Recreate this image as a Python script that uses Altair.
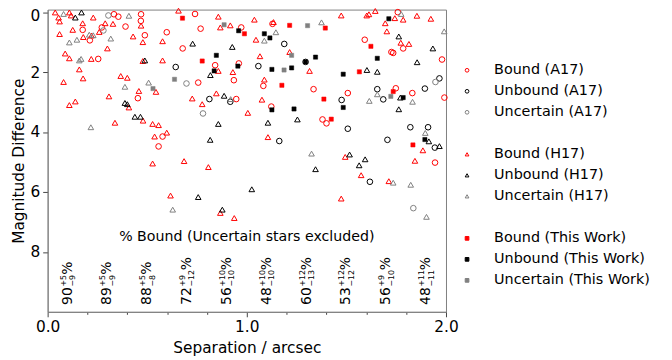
import altair as alt
import pandas as pd

# ---------------- data ----------------
a17_bound_x = [0.333, 0.355, 0.469, 0.740, 0.468, 0.391, 0.768, 0.272, 0.176, 0.598, 0.488, 0.212, 0.678, 0.254,
               0.841, 0.756, 0.935, 0.453, 0.947, 0.577, 0.557, 0.972, 1.129, 1.758, 1.592, 1.785, 1.726, 1.735,
               1.980, 0.960, 1.083, 1.335, 1.507, 1.748, 1.831, 1.992, 1.123, 1.380, 1.400, 1.945]
a17_bound_y = [0.07, 0.15, 0.07, 0.06, 0.29, 0.48, 0.55, 0.51, 0.59, 0.67, 0.77, 0.94, 1.21, 1.56,
               1.77, 2.35, 2.27, 2.87, 2.90, 4.15, 4.48, 0.51, 0.39, 0.00, 0.92, 1.21, 1.33, 1.36,
               1.58, 1.71, 2.46, 2.57, 2.70, 2.54, 2.70, 2.85, 3.15, 3.58, 3.71, 5.02]

a17_unbound_x = [0.643, 0.812, 0.917, 1.188, 1.295, 1.058, 1.655, 1.894, 1.967, 1.476, 1.685, 1.507,
                 1.163, 1.706, 1.821, 1.910, 1.944, 1.618]
a17_unbound_y = [1.83, 2.90, 2.99, 1.06, 1.66, 1.80, 2.57, 2.55, 2.21, 2.93, 2.91, 3.89,
                 4.30, 4.26, 3.84, 3.84, 4.52, 5.66]

a17_unc_x = [0.305, 0.280, 0.697, 0.780, 1.947, 1.836]
a17_unc_y = [0.11, 0.61, 2.38, 3.38, 2.33, 6.54]

h17_bound_x = [0.038, 0.109, 0.118, 0.055, 0.060, 0.229, 0.657, 0.857, 0.176, 0.289, 0.328, 0.469, 0.867, 0.917,
               0.259, 0.126, 0.060, 0.220, 0.179, 0.429, 0.478, 0.577, 0.300, 0.088, 0.109, 0.219, 0.478, 0.577,
               0.857, 0.930, 0.159, 0.367, 0.400, 0.178, 0.080, 0.458, 0.544, 0.847, 0.308, 0.726, 0.139, 0.109,
               0.408, 0.776, 0.479, 0.338, 0.527, 0.557, 0.598, 0.537, 0.527, 0.685, 0.807, 0.617, 0.867, 0.937,
               1.038, 1.134, 1.474, 1.602, 1.613, 1.645, 1.695, 1.743, 1.785, 1.854, 1.924, 1.046, 1.703, 1.773,
               1.814, 1.066, 1.215, 1.315, 1.088, 1.076, 1.005, 1.106, 1.884, 1.844, 1.494, 1.574, 1.713, 1.474]
h17_bound_y = [0.01, 0.01, 0.11, 0.18, 0.31, 0.18, -0.05, 0.15, 0.37, 0.37, 0.39, 0.45, 0.51, 0.44,
               0.66, 0.59, 0.73, 0.78, 0.83, 0.81, 1.00, 0.97, 1.21, 1.38, 1.54, 1.56, 1.63, 1.61,
               1.96, 2.00, 1.91, 2.13, 2.19, 2.21, 2.33, 2.63, 2.66, 2.71, 2.81, 2.88, 2.98, 3.10,
               3.18, 3.07, 3.62, 3.69, 3.73, 3.77, 4.02, 4.15, 5.05, 4.97, 5.17, 6.12, 6.70, 6.87,
               0.25, 0.33, 0.11, 0.11, 0.07, -0.04, 0.37, 0.20, 0.25, 0.12, 0.22, 0.92, 0.64, 1.02,
               1.06, 1.47, 1.33, 1.96, 2.25, 2.92, 3.36, 4.17, 4.61, 4.96, 4.83, 5.44, 5.64, 6.22]

h17_unbound_x = [0.170, 0.139, 0.728, 0.927, 0.488, 0.817, 0.886, 0.388, 0.400, 0.438, 0.466, 0.857, 0.816,
                 0.756, 0.877, 1.763, 1.934, 1.855, 1.603, 1.655, 1.771, 1.763, 1.254, 1.106, 1.914, 1.967,
                 1.516, 1.594, 1.564, 1.345, 1.025]
h17_unbound_y = [0.01, 0.18, 1.05, 1.16, 1.61, 2.10, 2.79, 3.03, 3.07, 3.49, 3.49, 3.73, 4.26,
                 6.17, 6.59, 0.81, 1.21, 1.67, 1.93, 1.99, 2.85, 3.24, 3.58, 3.69, 4.31, 4.47,
                 4.75, 4.91, 5.11, 5.24, 5.91]

h17_unc_x = [0.080, 0.408, 0.209, 0.229, 0.317, 0.147, 0.109, 0.159, 0.168, 0.507, 0.388, 0.919, 0.217, 0.628,
             1.375, 1.775, 1.146, 1.088, 1.991, 1.655, 1.615, 1.832, 1.896, 1.325, 1.735, 1.823, 1.902]
h17_unc_y = [0.06, 0.12, 0.75, 0.77, 0.88, 0.92, 1.01, 1.61, 1.56, 2.35, 2.49, 2.90, 3.84, 6.59,
             0.34, 0.06, 0.67, 0.95, 0.64, 2.74, 2.96, 2.99, 4.03, 4.72, 5.69, 5.76, 6.83]

tw_bound_x = [0.677, 0.988, 1.215, 1.394, 1.623, 0.776, 1.565, 1.176, 1.735, 1.387, 1.424, 1.834]
tw_bound_y = [0.20, 0.72, 0.44, 0.53, 1.14, 1.63, 1.99, 2.44, 2.65, 2.90, 3.57, 4.43]

tw_unbound_x = [0.847, 0.836, 0.959, 1.088, 1.116, 1.713, 1.345, 1.295, 1.655, 0.955, 1.126, 1.225,
                1.484, 1.785, 1.126, 1.237, 1.484, 1.894]
tw_unbound_y = [1.44, 1.96, 0.62, 0.72, 0.86, 0.22, 1.50, 1.66, 1.54, 1.80, 1.91, 1.86,
                2.07, 2.85, 3.26, 3.23, 3.18, 4.25]

tw_unc_x = [0.886, 0.637, 0.529, 1.305, 1.225, 1.187, 1.723]
tw_unc_y = [0.42, 2.24, 2.55, 0.45, 1.44, 1.93, 2.81]

# bound-fraction annotations per separation bin
bin_centres = [0.1, 0.3, 0.5, 0.7, 0.9, 1.1, 1.3, 1.5, 1.7, 1.9]
pct_bound = ["90", "89", "88", "72", "56", "48", "60", "53", "56", "48"]
err_up = ["+5", "+5", "+5", "+9", "+10", "+10", "+12", "+12", "+9", "+11"]
err_lo = ["\u22129", "\u22129", "\u22128", "\u221212", "\u221210", "\u221210", "\u221213", "\u221212", "\u221210", "\u221211"]

cats = ["Bound (A17)", "Unbound (A17)", "Uncertain (A17)", "gap1",
        "Bound (H17)", "Unbound (H17)", "Uncertain (H17)", "gap2",
        "Bound (This Work)", "Unbound (This Work)", "Uncertain (This Work)"]
shapes = ["circle", "circle", "circle", "circle",
          "triangle-up", "triangle-up", "triangle-up", "circle",
          "square", "square", "square"]
strokes = ["#ff0000", "#000000", "#808080", "transparent",
           "#ff0000", "#000000", "#808080", "transparent",
           "#ff0000", "#000000", "#808080"]
fills = ["transparent"] * 8 + ["#ff0000", "#000000", "#808080"]

x_ticks = [round(i * 0.1, 1) for i in range(0, 21)]
y_ticks = [round(i * 0.5, 1) for i in range(0, 20)]


def frame(xs, ys, cat):
    return pd.DataFrame({"x": xs, "y": ys, "cat": cat})


open_df = pd.concat([
    frame(a17_bound_x, a17_bound_y, cats[0]),
    frame(a17_unbound_x, a17_unbound_y, cats[1]),
    frame(a17_unc_x, a17_unc_y, cats[2]),
    frame(h17_bound_x, h17_bound_y, cats[4]),
    frame(h17_unbound_x, h17_unbound_y, cats[5]),
    frame(h17_unc_x, h17_unc_y, cats[6]),
], ignore_index=True)
sq_df = pd.concat([
    frame(tw_bound_x, tw_bound_y, cats[8]),
    frame(tw_unbound_x, tw_unbound_y, cats[9]),
    frame(tw_unc_x, tw_unc_y, cats[10]),
], ignore_index=True)
bins_df = pd.DataFrame({"x": bin_centres, "main": pct_bound, "up": err_up, "lo": err_lo})

FONT = "DejaVu Sans"
xscale = alt.Scale(domain=[0, 2], nice=False, zero=False)
yscale = alt.Scale(domain=[-0.086, 10], reverse=True, nice=False, zero=False)

x_axis = alt.Axis(
    values=x_ticks, title="Separation / arcsec",
    labelExpr="abs(datum.value*2 - round(datum.value*2)) < 1e-6 ? format(datum.value, '.1f') : ''",
    tickSize={"condition": {"test": "abs(datum.value*2 - round(datum.value*2)) < 1e-6", "value": 5}, "value": 2.5},
    grid=False, labelFlush=False, labelOverlap=False, labelFont=FONT, titleFont=FONT,
    labelFontSize=15.5, titleFontSize=15.5, titleFontWeight="normal", labelColor="black", titleColor="black",
    domainColor="#808080", tickColor="#444444", labelPadding=3, titlePadding=6,
)
y_axis = alt.Axis(
    values=y_ticks, title="Magnitude Difference",
    labelExpr="abs(datum.value/2 - round(datum.value/2)) < 1e-6 ? format(datum.value, 'd') : ''",
    tickSize={"condition": {"test": "abs(datum.value/2 - round(datum.value/2)) < 1e-6", "value": 5}, "value": 2.5},
    labelOffset={"condition": {"test": "datum.value === 0", "value": 3.5}, "value": 0},
    grid=False, labelFlush=False, labelOverlap=False, labelFont=FONT, titleFont=FONT,
    labelFontSize=15.5, titleFontSize=15.5, titleFontWeight="normal", labelColor="black", titleColor="black",
    domainColor="#808080", tickColor="#444444", labelPadding=3, titlePadding=3,
)

legend = alt.Legend(
    title=None, orient="none", legendX=416, legendY=54, padding=0,
    labelExpr="indexof(datum.label, 'gap') >= 0 ? '' : datum.label",
    labelFont=FONT, labelFontSize=14.5, labelColor="black", labelOffset=20,
    symbolSize=14, symbolStrokeWidth=1, symbolOpacity=1, rowPadding=6.2,
)
shape_enc = alt.Shape("cat:N", scale=alt.Scale(domain=cats, range=shapes), legend=legend)
stroke_enc = alt.Stroke("cat:N", scale=alt.Scale(domain=cats, range=strokes), legend=legend)
fill_enc = alt.Fill("cat:N", scale=alt.Scale(domain=cats, range=fills), legend=legend)

X = alt.X("x:Q", scale=xscale, axis=x_axis)
Y = alt.Y("y:Q", scale=yscale, axis=y_axis)

pts_open = alt.Chart(open_df).mark_point(size=32, strokeWidth=1, opacity=1).encode(
    x=X, y=Y, shape=shape_enc, stroke=stroke_enc, fill=fill_enc,
)
pts_sq = alt.Chart(sq_df).mark_point(size=18, strokeWidth=0.5, opacity=1).encode(
    x=X, y=Y, shape=shape_enc, stroke=stroke_enc, fill=fill_enc,
)

header = alt.Chart(pd.DataFrame({"t": ["% Bound (Uncertain stars excluded)"]})).mark_text(
    font=FONT, fontSize=14.3, color="black", align="center", baseline="middle"
).encode(x=alt.datum(1.0), y=alt.datum(7.52), text="t:N")

LABEL_Y = 9.77
rot = dict(font=FONT, color="black", angle=270, align="left", baseline="middle")
main_t = alt.Chart(bins_df).mark_text(fontSize=14, **rot).encode(
    x=X, y=alt.datum(LABEL_Y), text="main:N")
up_t = alt.Chart(bins_df).mark_text(fontSize=8, dx=18.5, dy=-4, **rot).encode(
    x=X, y=alt.datum(LABEL_Y), text="up:N")
lo_t = alt.Chart(bins_df).mark_text(fontSize=8, dx=18.5, dy=5.5, **rot).encode(
    x=X, y=alt.datum(LABEL_Y), text="lo:N")
pct_short = alt.Chart(bins_df).transform_filter("length(datum.lo) <= 2").mark_text(
    fontSize=14, dx=30.5, **rot).encode(
    x=X, y=alt.datum(LABEL_Y), text=alt.value("%"))
pct_long = alt.Chart(bins_df).transform_filter("length(datum.lo) > 2").mark_text(
    fontSize=14, dx=35, **rot).encode(
    x=X, y=alt.datum(LABEL_Y), text=alt.value("%"))

chart = alt.layer(
    pts_open, pts_sq, header, main_t, up_t, lo_t, pct_short, pct_long
).properties(
    width=402, height=305,
    autosize=alt.AutoSizeParams(type="none"),
    padding={"left": 40, "top": 0, "right": 220, "bottom": 47},
).configure_view(stroke="#808080", strokeWidth=1)

chart.save("out.html", embed_options={"renderer": "svg", "actions": False})
